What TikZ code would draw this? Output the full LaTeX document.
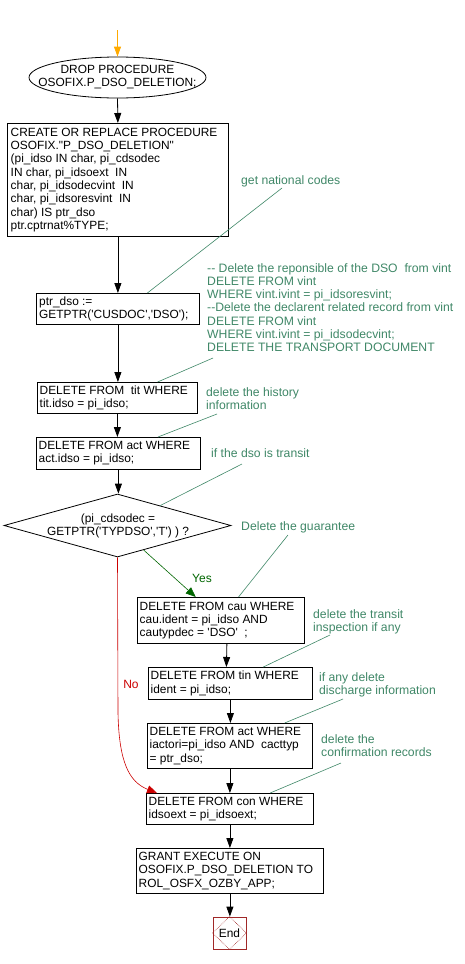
\documentclass[tikz,border=0pt]{standalone}
\usepackage{fontspec}
\newfontfamily\lsans{Liberation Sans}
\usetikzlibrary{shapes.geometric,arrows.meta,calc}
\definecolor{cmt}{RGB}{64,136,104}
\definecolor{yesg}{RGB}{0,102,0}
\definecolor{nored}{RGB}{204,0,0}
\definecolor{endred}{RGB}{160,40,40}
\definecolor{startor}{RGB}{255,170,0}
\begin{document}
\begin{tikzpicture}[x=1pt,y=-1pt,
  font=\lsans\fontsize{11.9}{13.3}\selectfont,
  box/.style={draw, line width=0.8pt, inner sep=0pt, anchor=north west},
  btxt/.style={anchor=west, align=left, inner sep=0pt},
  cmtx/.style={anchor=north west, align=left, inner sep=0pt, text=cmt,
    font=\lsans\fontsize{12.2}{13.3}\selectfont},
  lead/.style={cmt, line width=0.6pt},
  arr/.style={line width=0.8pt, -{Triangle[width=7pt,length=10pt]}},
  yesarr/.style={yesg, line width=0.6pt, -{Triangle[width=8pt,length=10pt]}},
  noarr/.style={nored, line width=0.6pt, -{Triangle[width=8pt,length=10pt]}},
  startarr/.style={startor, line width=0.8pt, -{Triangle[width=7pt,length=10pt]}}]
\fill[white] (0,0) rectangle (465,964);
\useasboundingbox (0,0) rectangle (465,964);

% start
\coordinate (s) at (117.5,30);
\node[draw, ellipse, line width=0.8pt, minimum width=177pt, minimum height=41pt, inner sep=0pt] (e) at (117.5,77.5) {};
\node[align=center, inner sep=0pt] (et) at (117.5,77) {DROP PROCEDURE\\OSOFIX.P\_DSO\_DELETION;};

% boxes
\node[box, minimum width=221pt, minimum height=113pt] (b1) at (7,123) {};
\node[btxt] (b1t) at ([xshift=3.5pt]b1.west) {CREATE OR REPLACE PROCEDURE\\OSOFIX."P\_DSO\_DELETION"\\(pi\_idso IN char, pi\_cdsodec\\IN char, pi\_idsoext\ \ IN\\char, pi\_idsodecvint\ \ IN\\char, pi\_idsoresvint\ \ IN\\char) IS ptr\_dso\\ptr.cptrnat\%TYPE;};

\node[box, minimum width=163pt, minimum height=31pt] (p) at (36,293) {};
\node[btxt] (pt) at ([xshift=3pt]p.west) {ptr\_dso :=\\GETPTR('CUSDOC','DSO');};

\node[box, minimum width=160pt, minimum height=31pt] (tit) at (37,382) {};
\node[btxt] (titt) at ([xshift=2.5pt]tit.west) {DELETE FROM\ \ tit WHERE\\tit.idso = pi\_idso;};

\node[box, minimum width=164pt, minimum height=32pt] (act) at (36,437) {};
\node[btxt] (actt) at ([xshift=2.5pt]act.west) {DELETE FROM act WHERE\\act.idso = pi\_idso;};

\node[draw, diamond, line width=0.8pt, minimum width=227pt, minimum height=63pt, inner sep=0pt] (d) at (117.5,525.5) {};
\node[align=center, inner sep=0pt] (dt) at (118,526) {(pi\_cdsodec =\\GETPTR('TYPDSO','T') ) ?};

\node[box, minimum width=167pt, minimum height=46pt] (cau) at (137,597) {};
\node[btxt] (caut) at ([xshift=2.5pt]cau.west) {DELETE FROM cau WHERE\\cau.ident = pi\_idso AND\\cautypdec = 'DSO'\ \ ;};

\node[box, minimum width=164pt, minimum height=32pt] (tin) at (148,667) {};
\node[btxt] (tint) at ([xshift=2.5pt]tin.west) {DELETE FROM tin WHERE\\ident = pi\_idso;};

\node[box, minimum width=165pt, minimum height=45pt] (act2) at (147,723) {};
\node[btxt] (act2t) at ([xshift=2.5pt]act2.west) {DELETE FROM act WHERE\\iactori=pi\_idso AND\ \ cacttyp\\= ptr\_dso;};

\node[box, minimum width=167pt, minimum height=31pt] (con) at (146,793) {};
\node[btxt] (cont) at ([xshift=2.5pt]con.west) {DELETE FROM con WHERE\\idsoext = pi\_idsoext;};

\node[box, minimum width=187pt, minimum height=45pt] (gr) at (136,848) {};
\node[btxt] (grt) at ([xshift=2.5pt]gr.west) {GRANT EXECUTE ON\\OSOFIX.P\_DSO\_DELETION TO\\ROL\_OSFX\_OZBY\_APP;};

\node[draw=endred, line width=0.8pt, minimum width=33pt, minimum height=32pt, inner sep=0pt] (end) at (229.5,933) {End};
\draw[endred, densely dotted, line width=0.6pt] (end.north) -- (end.east) -- (end.south) -- (end.west) -- cycle;

% arrows
\draw[startarr] (s) -- (e.north);
\draw[arr] (e.south) -- (b1.north);
\draw[arr] (b1.south) -- (p.north);
\draw[arr] (p.south) -- (p.south |- tit.north);
\draw[arr] (tit.south) -- (tit.south |- act.north);
\draw[arr] (act.south) -- (act.south |- d.north);
\draw[yesarr] ($(d.south)!0.23!(d.east)$) -- ($(cau.north west)!0.35!(cau.north east)$);
\node[text=yesg, inner sep=0pt, font=\lsans\fontsize{12}{13}\selectfont] (yl) at (202,578) {Yes};
\draw[arr] ([xshift=6pt]cau.south) -- ([xshift=-4pt]tin.north);
\draw[arr] (tin.south) -- (tin.south |- act2.north);
\draw[arr] (act2.south) -- (act2.south |- con.north);
\draw[arr] (con.south) -- (con.south |- gr.north);
\draw[arr] (gr.south) -- (gr.south |- end.north);
\draw[noarr] (d.south) -- (118,713) .. controls (119,762) and (129,782) .. ($(con.north west)+(11,0)$);
\node[text=nored, inner sep=0pt, font=\lsans\fontsize{12}{13}\selectfont] (nl) at (131,684) {No};

% comments
\node[cmtx] (c1) at (241,175) {get national codes};
\node[cmtx] (c2) at (207,263) {-- Delete the reponsible of the DSO\ \ from vint\\DELETE FROM vint\\WHERE vint.ivint = pi\_idsoresvint;\\--Delete the declarent related record from vint\\DELETE FROM vint\\WHERE vint.ivint = pi\_idsodecvint;\\DELETE THE TRANSPORT DOCUMENT};
\node[cmtx] (c3) at (206,387) {delete the history\\information};
\node[cmtx] (c4) at (211,448) {if the dso is transit};
\node[cmtx] (c5) at (241,521) {Delete the guarantee};
\node[cmtx] (c6) at (313,609) {delete the transit\\inspection if any};
\node[cmtx] (c7) at (319,672) {if any delete\\discharge information};
\node[cmtx] (c8) at (321,734) {delete the\\confirmation records};

\coordinate (l1) at (282,188);
\coordinate (l2) at (213,358);
\coordinate (l3) at (217,414);
\coordinate (l4) at (242,464);
\coordinate (l5) at (288,535);
\coordinate (l6) at (330,635);
\coordinate (l7) at (343,699);
\coordinate (l8) at (341,763);
\draw[lead] (l1) -- ($(p.north west)!0.68!(p.north east)$);
\draw[lead] (l2) -- ($(tit.north west)!0.75!(tit.north east)$);
\draw[lead] (l3) -- ($(act.north west)!0.74!(act.north east)$);
\draw[lead] (l4) -- ($(d.north)!0.375!(d.east)$);
\draw[lead] (l5) -- ($(cau.north west)!0.605!(cau.north east)$);
\draw[lead] (l6) -- ($(tin.north west)!0.70!(tin.north east)$);
\draw[lead] (l7) -- ($(act2.north west)!0.83!(act2.north east)$);
\draw[lead] (l8) -- ($(con.north west)!0.74!(con.north east)$);
\end{tikzpicture}
\end{document}
